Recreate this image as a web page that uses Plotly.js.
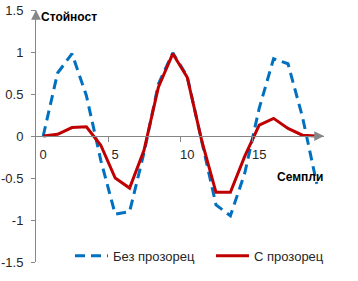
<!DOCTYPE html>
<html>
<head>
<meta charset="utf-8">
<script src="https://cdn.plot.ly/plotly-3.0.1.min.js"></script>
<style>html,body{margin:0;padding:0;background:#fff}#chart{width:358px;height:281px}</style>
</head>
<body>
<div id="chart"></div>
<script>
const samples = [0,1,2,3,4,5,6,7,8,9,10,11,12,13,14,15,16,17,18,19];
const noWindow = [0, 0.75, 0.98, 0.48, -0.29, -0.93, -0.90, -0.20, 0.62, 0.99, 0.71, -0.05, -0.82, -0.95, -0.44, 0.33, 0.92, 0.86, 0.23, -0.57];
const withWindow = [0, 0.02, 0.10, 0.11, -0.11, -0.50, -0.62, -0.17, 0.58, 0.98, 0.70, -0.05, -0.67, -0.67, -0.24, 0.13, 0.21, 0.09, 0.01, 0];
const seriesNames = ['Без прозорец', 'С прозорец'];
const xTickVals = [0, 5, 10, 15];
const xTickText = ['0', '5', '10', '15'];
const yTickVals = [-1.5, -1, -0.5, 0, 0.5, 1, 1.5];
const yTickText = ['-1.5', '-1', '-0.5', '0', '0.5', '1', '1.5'];
const yTitle = 'Стойност';
const xTitle = 'Семпли';

const FONT = 'Liberation Sans, Arial, sans-serif';
const AX = '#868686';

const traces = [
  {x: samples, y: noWindow, name: seriesNames[0], type: 'scatter', mode: 'lines',
   line: {color: '#0070C0', width: 3, dash: '10px,6px'}},
  {x: samples, y: withWindow, name: seriesNames[1], type: 'scatter', mode: 'lines',
   line: {color: '#C00000', width: 3}}
];

const layout = {
  width: 358, height: 281,
  margin: {l: 36, r: 6, t: 10, b: 19},
  paper_bgcolor: '#fff', plot_bgcolor: '#fff',
  font: {family: FONT, size: 12, color: '#262626'},
  showlegend: true,
  legend: {orientation: 'h', x: 0.118, xanchor: 'left', y: 0.025, yanchor: 'middle',
           itemwidth: 33, entrywidth: 93,
           font: {family: FONT, size: 13, color: '#262626'}, bgcolor: 'rgba(0,0,0,0)'},
  xaxis: {range: [-0.5, 19.5], anchor: 'free', position: 0.5,
          tickmode: 'array', tickvals: xTickVals, ticktext: xTickText,
          ticks: '', ticklabelstandoff: 6,
          showline: true, linecolor: AX, linewidth: 1, showgrid: false, zeroline: false,
          tickfont: {family: FONT, size: 13, color: '#262626'},
          minor: {tickmode: 'array', tickvals: [4.5, 9.5, 14.5], ticks: 'outside', ticklen: 5, tickcolor: AX, showgrid: false}},
  yaxis: {range: [-1.5, 1.5], tickmode: 'array', tickvals: yTickVals, ticktext: yTickText,
          ticks: 'outside', ticklen: 4, tickcolor: AX, ticklabelstandoff: 5,
          showline: true, linecolor: AX, linewidth: 1, showgrid: false, zeroline: false,
          tickfont: {family: FONT, size: 13, color: '#262626'}},
  annotations: [
    {xref: 'paper', yref: 'paper', x: 0, y: 1, showarrow: true, arrowhead: 2, arrowsize: 1.3, arrowwidth: 1.5,
     arrowcolor: AX, ax: 0, ay: 10, text: ''},
    {xref: 'paper', yref: 'y', x: 1, y: 0, showarrow: true, arrowhead: 2, arrowsize: 1.3, arrowwidth: 1.5,
     arrowcolor: AX, ax: -10, ay: 0, text: ''},
    {xref: 'paper', yref: 'paper', x: 0, y: 0.972, xanchor: 'left', yanchor: 'middle', xshift: 3,
     showarrow: false, text: '<b>' + yTitle + '</b>', font: {family: FONT, size: 12, color: '#000'}},
    {xref: 'paper', yref: 'paper', x: 1.002, y: 0.338, xanchor: 'right', yanchor: 'middle',
     showarrow: false, text: '<b>' + xTitle + '</b>', font: {family: FONT, size: 12, color: '#000'}}
  ]
};

Plotly.newPlot('chart', traces, layout, {staticPlot: true, displayModeBar: false});
</script>
</body>
</html>
